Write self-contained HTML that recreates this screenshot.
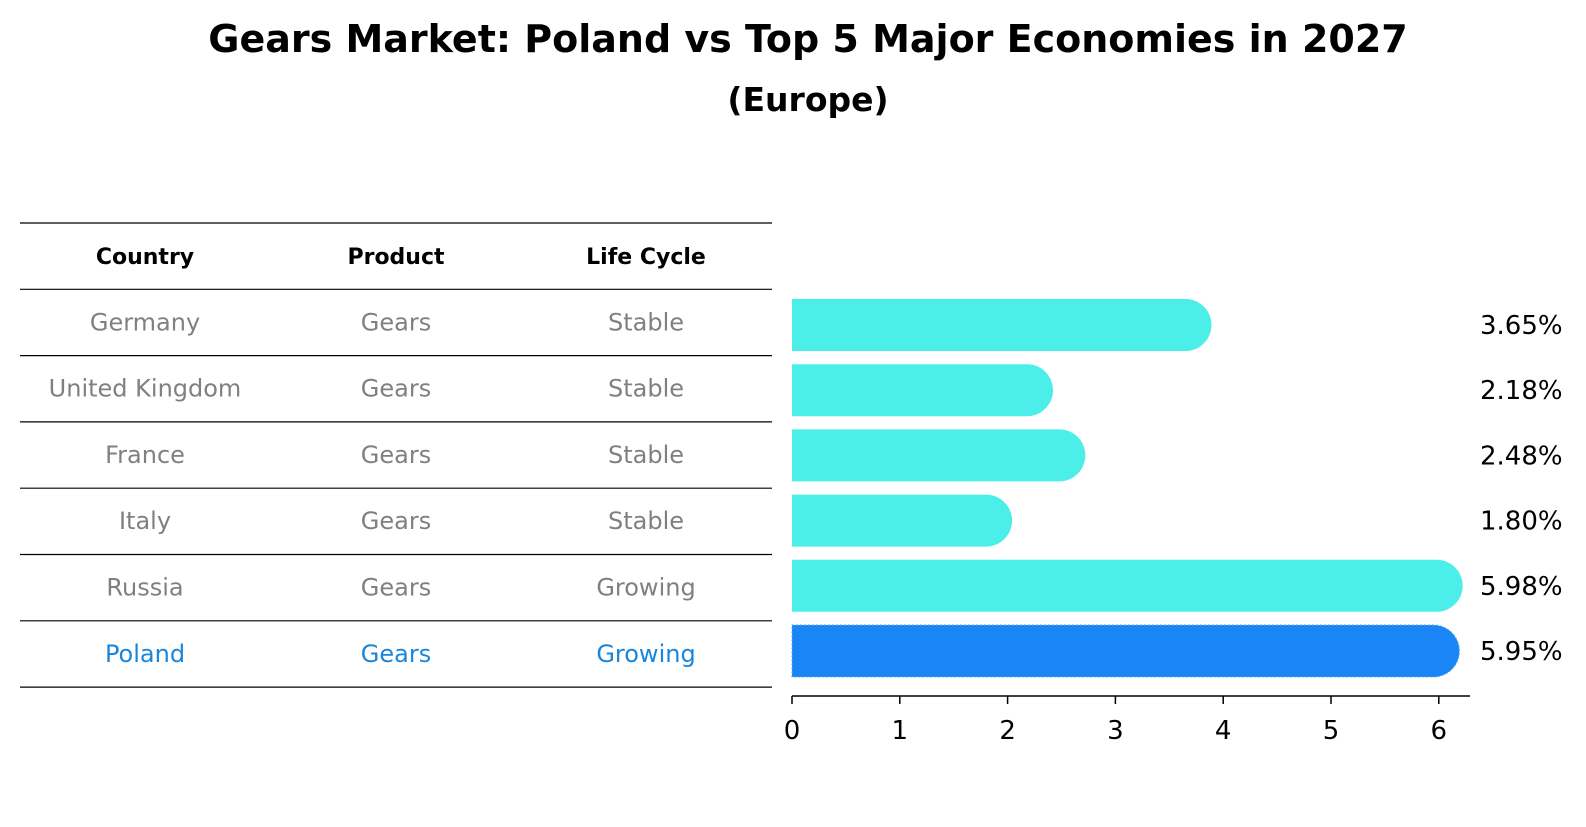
<!DOCTYPE html>
<html><head><meta charset="utf-8"><style>
body{margin:0;background:#fff;font-family:"DejaVu Sans","Liberation Sans",sans-serif}
svg text{font-family:"DejaVu Sans","Liberation Sans",sans-serif}
</style></head><body>
<svg width="1586" height="823" viewBox="0 0 1586 823">
<text x="808" y="52" text-anchor="middle" font-size="38" font-weight="bold">Gears Market: Poland vs Top 5 Major Economies in 2027</text>
<text x="808" y="111" text-anchor="middle" font-size="33" font-weight="bold">(Europe)</text>
<g id="table"></g>
<g id="bars"></g>
<g id="axis"></g>
</svg>
<script>
const countries=["Germany","United Kingdom","France","Italy","Russia","Poland"];
const products=["Gears","Gears","Gears","Gears","Gears","Gears"];
const lifeCycles=["Stable","Stable","Stable","Stable","Growing","Growing"];
const values=[3.65,2.18,2.48,1.80,5.98,5.95];
const ticks=[0,1,2,3,4,5,6];
const NS="http://www.w3.org/2000/svg";
function mk(t,a,p,txt){const e=document.createElementNS(NS,t);for(const k in a)e.setAttribute(k,a[k]);if(txt!==undefined)e.textContent=txt;p.appendChild(e);return e;}
const x0=792,ux=107.8;
const xs=v=>x0+v*ux;
const tb=document.getElementById('table'),bg=document.getElementById('bars'),ax=document.getElementById('axis');
const lineY=k=>223+k*66.3;
const colX=[145,396,646];
for(let k=0;k<=7;k++){const l=mk('line',{x1:20,x2:772,y1:lineY(k),y2:lineY(k),stroke:'#000','stroke-width':1.2},tb);

}
["Country","Product","Life Cycle"].forEach((h,i)=>{const t=mk('text',{x:colX[i],y:lineY(0)+33+8,'text-anchor':'middle','font-size':22,'font-weight':'bold'},tb,h);

});
countries.forEach((c,r)=>{const col=c==="Poland"?'#1a86db':'#808080';
[c,products[r],lifeCycles[r]].forEach((v,i)=>{const t=mk('text',{x:colX[i],y:lineY(r+1)+33+8,'text-anchor':'middle','font-size':24,fill:col},tb,v);

});
const cy=325+r*65.2,h=52,w=xs(values[r])-x0;
const fill=c==="Poland"?'#1a86f5':'#4beee8';
const p=mk('path',{d:`M${x0},${cy-h/2}h${w}a${h/2},${h/2} 0 0 1 0,${h}h${-w}z`,fill:fill},bg);
if(c==="Poland"){p.setAttribute('stroke','#5aa8f0');p.setAttribute('stroke-dasharray','2 2');p.setAttribute('stroke-width','1');}


const t=mk('text',{x:1480,y:cy+9,'font-size':26},bg,values[r].toFixed(2)+'%');

});
const ay=696;
const al=mk('line',{x1:x0,x2:1470,y1:ay,y2:ay,stroke:'#000','stroke-width':1.5},ax);


ticks.forEach(v=>{const tl=mk('line',{x1:xs(v),x2:xs(v),y1:ay,y2:ay+8,stroke:'#000','stroke-width':1.5},ax);


const t=mk('text',{x:xs(v),y:ay+43,'text-anchor':'middle','font-size':26},ax,String(v));

});
</script>
</body></html>
